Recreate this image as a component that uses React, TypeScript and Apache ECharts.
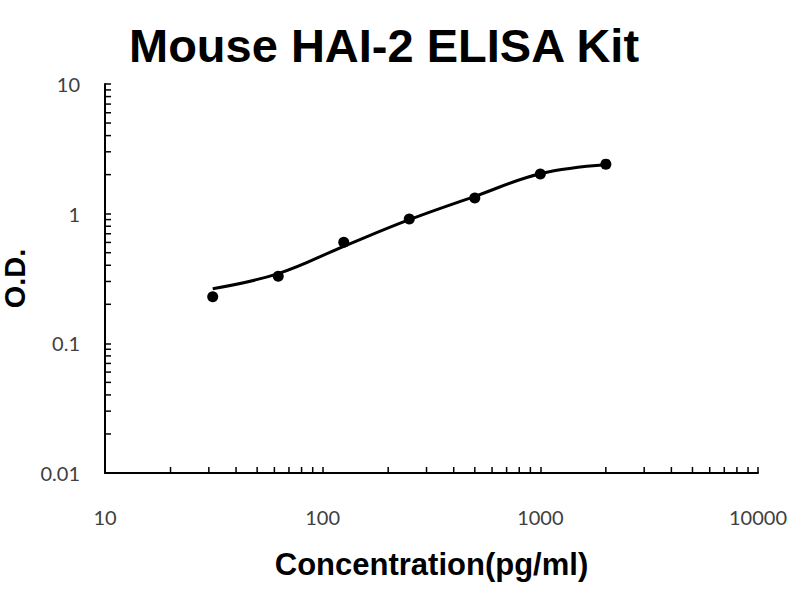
import * as echarts from "echarts";
import { useEffect, useRef } from "react";

// standard concentrations (pg/ml)
const concentrations = [31.25, 62.5, 125, 250, 500, 1000, 2000];
// measured O.D. values (dots)
const odValues = [0.229, 0.329, 0.602, 0.91, 1.32, 2.02, 2.41];
// fitted curve O.D. at the same concentrations
const fitValues = [0.264, 0.345, 0.56, 0.899, 1.36, 2.03, 2.38];

const xDecades = [10, 100, 1000];
const yDecades = [0.01, 0.1, 1];
const minorSteps = [2, 3, 4, 5, 6, 7, 8, 9];

const xMinorTicks = xDecades.flatMap((d) => minorSteps.map((m) => d * m));
const yMinorTicks = yDecades.flatMap((d) => minorSteps.map((m) => +(d * m).toPrecision(3)));

const fmt = (v: number) => String(Number(v.toPrecision(6)));

export default function App() {
	const chartRef = useRef<HTMLDivElement>(null);

	useEffect(() => {
		if (!chartRef.current) return;
		const chart = echarts.init(chartRef.current, null, { renderer: "svg" });
		const labelStyle = {
			color: "#404040",
			fontFamily: "Lato",
			fontSize: 20,
		};
		chart.setOption({
			animation: false,
			backgroundColor: "#fff",
			title: {
				text: "Mouse HAI-2 ELISA Kit",
				left: 124,
				top: 17,
				textStyle: {
					fontFamily: "Liberation Sans",
					fontWeight: "bold",
					fontSize: 47,
					color: "#000",
				},
			},
			grid: {
				left: 105,
				right: 42,
				top: 84,
				bottom: 127,
				containLabel: false,
				outerBoundsMode: "none",
			},
			xAxis: {
				type: "log",
				logBase: 10,
				min: 10,
				max: 10000,
				name: "Concentration(pg/ml)",
				nameLocation: "middle",
				nameGap: 76,
				nameTextStyle: {
					fontFamily: "Liberation Sans",
					fontWeight: "bold",
					fontSize: 31,
					color: "#000",
				},
				axisLine: { lineStyle: { color: "#000", width: 2 } },
				axisTick: { inside: true, length: 6, lineStyle: { color: "#000", width: 1.5 } },
				axisLabel: { ...labelStyle, margin: 34, formatter: fmt },
				splitLine: { show: false },
			},
			yAxis: {
				type: "log",
				logBase: 10,
				min: 0.01,
				max: 10,
				name: "O.D.",
				nameLocation: "middle",
				nameGap: 66,
				nameTextStyle: {
					fontFamily: "Liberation Sans",
					fontWeight: "bold",
					fontSize: 29,
					color: "#000",
				},
				axisLine: { show: true, lineStyle: { color: "#000", width: 2 } },
				axisTick: { show: true, inside: true, length: 6, lineStyle: { color: "#000", width: 1.5 } },
				axisLabel: { ...labelStyle, margin: 25, formatter: fmt },
				splitLine: { show: false },
			},
			series: [
				{
					type: "scatter",
					silent: true,
					clip: false,
					symbol: "rect",
					symbolSize: [1.5, 6],
					symbolOffset: [0, -3],
					itemStyle: { color: "#000", opacity: 1 },
					data: xMinorTicks.map((v) => [v, 0.01]),
				},
				{
					type: "scatter",
					silent: true,
					clip: false,
					symbol: "rect",
					symbolSize: [6, 1.5],
					symbolOffset: [3, 0],
					itemStyle: { color: "#000", opacity: 1 },
					data: yMinorTicks.map((v) => [10, v]),
				},
				{
					type: "line",
					smooth: 0.4,
					showSymbol: false,
					lineStyle: { color: "#000", width: 3 },
					data: concentrations.map((c, i) => [c, fitValues[i]]),
				},
				{
					type: "scatter",
					symbol: "circle",
					symbolSize: 11,
					itemStyle: { color: "#000", opacity: 1 },
					data: concentrations.map((c, i) => [c, odValues[i]]),
				},
			],
		});

		const onResize = () => chart.resize();
		window.addEventListener("resize", onResize);
		return () => {
			window.removeEventListener("resize", onResize);
			chart.dispose();
		};
	}, []);

	return (
		<div
			ref={chartRef}
			style={{ position: "fixed", left: 0, top: 0, width: 800, height: 600 }}
		/>
	);
}
